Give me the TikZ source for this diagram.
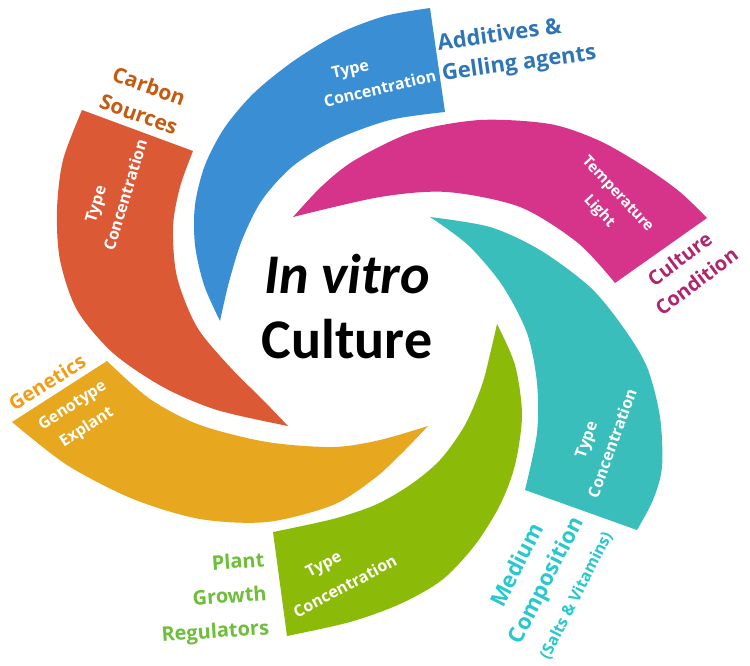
\documentclass[tikz,border=0pt]{standalone}
\usepackage{fontspec}
\setmainfont{Open Sans}
\newfontfamily\calib{Carlito}
\usepackage{tikz}
\definecolor{petblue}{RGB}{58,143,212}
\definecolor{petmag}{RGB}{214,52,138}
\definecolor{petteal}{RGB}{57,190,188}
\definecolor{petgreen}{RGB}{139,187,8}
\definecolor{petorange}{RGB}{231,167,30}
\definecolor{petred}{RGB}{220,89,54}
\definecolor{txtblue}{RGB}{46,117,182}
\definecolor{txtmag}{RGB}{175,38,110}
\definecolor{txtteal}{RGB}{40,200,205}
\definecolor{txtgreen}{RGB}{110,190,60}
\definecolor{txtorange}{RGB}{243,156,18}
\definecolor{txtred}{RGB}{197,90,17}
\newcommand{\petal}[3]{\fill[#1] plot[smooth] coordinates {#2} -- plot[smooth] coordinates {#3} -- cycle;}
\tikzset{
  lablin/.style={text=white, font=\bfseries\fontsize{16}{26}\selectfont, align=left, inner sep=0pt},
  lablout/.style={font=\bfseries\fontsize{21}{30}\selectfont, inner sep=0pt},
}

\begin{document}
\begin{tikzpicture}[x=1pt,y=-1pt]
            \useasboundingbox (0,0) rectangle (750,665);
            % petals
            \petal{petblue}{(220,321) (204,285) (195,245) (195,205) (205,165) (225,127) (255,92) (295,60) (340,33) (385,16) (430,8)}{(445,112) (390,120) (335,140) (293,166) (262,200) (242,240) (229,282) (220,321)}
            \petal{petmag}{(293,217) (322,186) (355,160) (413,132) (480,120) (550,124) (600,141) (645,167) (680,192) (707,218)}{(615,283) (578,243) (520,207) (447,192) (380,197) (293,217)}
            \petal{petteal}{(430,217) (490,227) (540,250) (590,287) (623,327) (647,367) (660,417) (662,467) (653,500) (637,530)}{(525,490) (537,433) (537,383) (527,333) (502,285) (468,245) (430,217)}
            \petal{petgreen}{(497,324) (515,365) (522,415) (515,465) (500,505) (475,545) (442,580) (400,604) (350,622) (287,636)}{(273,532) (333,519) (375,505) (410,485) (440,460) (465,425) (482,385) (491,350) (497,324)}
            \petal{petorange}{(428,426) (402,453) (375,478) (333,505) (267,522) (200,519) (133,499) (67,465) (12,422)}{(107,361) (150,399) (200,425) (267,442) (333,447) (380,440) (428,426)}
            \petal{petred}{(288,426) (217,410) (163,387) (113,353) (77,310) (60,260) (57,210) (63,160) (82,110)}{(193,151) (180,187) (173,227) (177,277) (197,327) (230,367) (263,400) (288,426)}

            % centre
            \node[font=\calib\bfseries\fontsize{56}{65}\selectfont, align=center] (core) at (347,307) {{\itshape In vitro}\\Culture};

            % inside the petals
            \node[lablin, rotate=13] (addin) at (377,76) {\hspace*{14pt}Type\\Concentration};
            \node[lablin, rotate=73] (carbin) at (113,191) {\hspace*{21pt}Type\\Concentration};
            \node[lablin, rotate=33, align=center] (genin) at (80,417) {Genotype\\Explant};
            \node[lablin, rotate=-47, align=center, font=\bfseries\fontsize{15}{25}\selectfont] (condin) at (608,203) {Temperature\\Light};
            \node[lablin, rotate=70] (medin) at (600,439) {\hspace*{33pt}Type\\Concentration};
            \node[lablin, rotate=28, font=\bfseries\fontsize{16}{30}\selectfont] (pgrin) at (338,573) {\hspace*{30pt}Type\\Concentration};

            % outside the petals
            \node[lablout, text=txtblue, rotate=8, align=left, font=\bfseries\fontsize{22}{31}\selectfont] (addlab) at (517,49) {Additives \&\\Gelling agents};
            \node[lablout, text=txtred, rotate=-20, align=center] (carblab) at (144,100) {Carbon\\Sources};
            \node[lablout, text=txtorange, rotate=32, font=\bfseries\fontsize{20}{28}\selectfont] (genlab) at (47,382) {Genetics};
            \node[lablout, text=txtmag, rotate=37, align=center, font=\bfseries\fontsize{20}{28}\selectfont] (condlab) at (688,270) {Culture\\Condition};
            \node[lablout, text=txtteal, rotate=63, align=center, font=\bfseries\fontsize{22}{32}\selectfont] (medlab) at (546,580) {Medium\\Composition\\{\fontsize{16}{20}\selectfont(Salts \& Vitamins)}};
            \node[lablout, text=txtgreen, rotate=4, align=right, font=\bfseries\fontsize{20}{34}\selectfont] (pgrlab) at (213,599) {Plant\\Growth\\Regulators};
\end{tikzpicture}
\end{document}
